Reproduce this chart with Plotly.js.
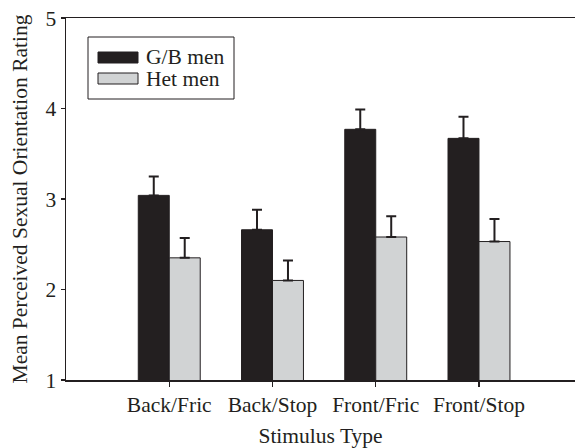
<!DOCTYPE html>
<html>
<head>
<meta charset="utf-8">
<script src="https://cdn.plot.ly/plotly-3.0.1.min.js"></script>
<style>
  html, body { margin: 0; padding: 0; background: #ffffff; }
  #chart { width: 575px; height: 448px; }
</style>
</head>
<body>
<div id="chart"></div>
<script>
// Stimulus categories and mean ratings with upper error bars
const categories = ["Back/Fric", "Back/Stop", "Front/Fric", "Front/Stop"];
const gbMeans = [3.04, 2.66, 3.77, 3.67];
const gbErrors = [0.21, 0.22, 0.22, 0.24];
const hetMeans = [2.35, 2.10, 2.58, 2.53];
const hetErrors = [0.22, 0.22, 0.23, 0.25];
const seriesNames = ["G/B men", "Het men"];
const yTicks = [1, 2, 3, 4, 5];

const ink = "#231f20";
const dark = "#231f20";
const light = "#d1d3d4";
const serif = "Liberation Serif, Times New Roman, serif";
const fs = 21.5;

const W = 575, H = 448;
const M = { l: 66, r: 0, t: 18, b: 68 };
const plotW = W - M.l - M.r, plotH = H - M.t - M.b;
// pixel -> paper helpers for the legend box
const px = x => (x - M.l) / plotW;
const py = y => (H - M.b - y) / plotH;

function barTrace(name, values, errors, color) {
  return {
    type: "bar",
    name: name,
    x: categories.map((c, i) => i),
    y: values,
    marker: { color: color, line: { color: ink, width: 1 } },
    error_y: {
      type: "data",
      symmetric: false,
      array: errors,
      arrayminus: errors.map(() => 0),
      color: ink,
      thickness: 2,
      width: 5
    },
    hoverinfo: "skip"
  };
}

const data = [
  barTrace(seriesNames[0], gbMeans, gbErrors, dark),
  barTrace(seriesNames[1], hetMeans, hetErrors, light)
];

// legend drawn as a framed box with swatches
const legendRows = [
  { name: seriesNames[0], color: dark, top: 52, bottom: 63, text: 57 },
  { name: seriesNames[1], color: light, top: 73, bottom: 84, text: 79 }
];
const shapes = [{
  type: "rect", xref: "paper", yref: "paper",
  x0: px(88), x1: px(234), y0: py(99), y1: py(37),
  line: { color: ink, width: 1 }, fillcolor: "#ffffff"
}];
const annotations = [];
legendRows.forEach(r => {
  shapes.push({
    type: "rect", xref: "paper", yref: "paper",
    x0: px(98), x1: px(138), y0: py(r.bottom), y1: py(r.top),
    line: { color: ink, width: 1 }, fillcolor: r.color
  });
  annotations.push({
    xref: "paper", yref: "paper", x: px(144), y: py(r.text),
    xanchor: "left", yanchor: "middle", showarrow: false,
    text: r.name, font: { family: serif, size: fs, color: ink }
  });
});

const layout = {
  width: W, height: H,
  margin: M,
  paper_bgcolor: "#ffffff",
  plot_bgcolor: "#ffffff",
  showlegend: false,
  barmode: "group",
  bargap: 0.4,
  bargroupgap: 0,
  font: { family: serif, size: fs, color: ink },
  xaxis: {
    range: [-1.0, 3.93],
    tickmode: "array",
    tickvals: categories.map((c, i) => i),
    ticktext: categories,
    showline: true, linecolor: ink, linewidth: 1.5,
    mirror: true,
    ticks: "outside", ticklen: 5, tickwidth: 1.5, tickcolor: ink,
    showgrid: false, zeroline: false,
    tickfont: { family: serif, size: fs, color: ink },
    title: { text: "Stimulus Type", font: { family: serif, size: fs, color: ink }, standoff: 12 }
  },
  yaxis: {
    range: [1, 5],
    tickmode: "array",
    tickvals: yTicks,
    showline: true, linecolor: ink, linewidth: 1.5,
    ticks: "outside", ticklen: 4, tickwidth: 1.5, tickcolor: ink,
    showgrid: false, zeroline: false,
    tickfont: { family: serif, size: fs, color: ink },
    title: { text: "Mean Perceived Sexual Orientation Rating", font: { family: serif, size: fs, color: ink }, standoff: 12 }
  },
  shapes: shapes,
  annotations: annotations
};

Plotly.newPlot("chart", data, layout, { displayModeBar: false, staticPlot: true });
</script>
</body>
</html>
